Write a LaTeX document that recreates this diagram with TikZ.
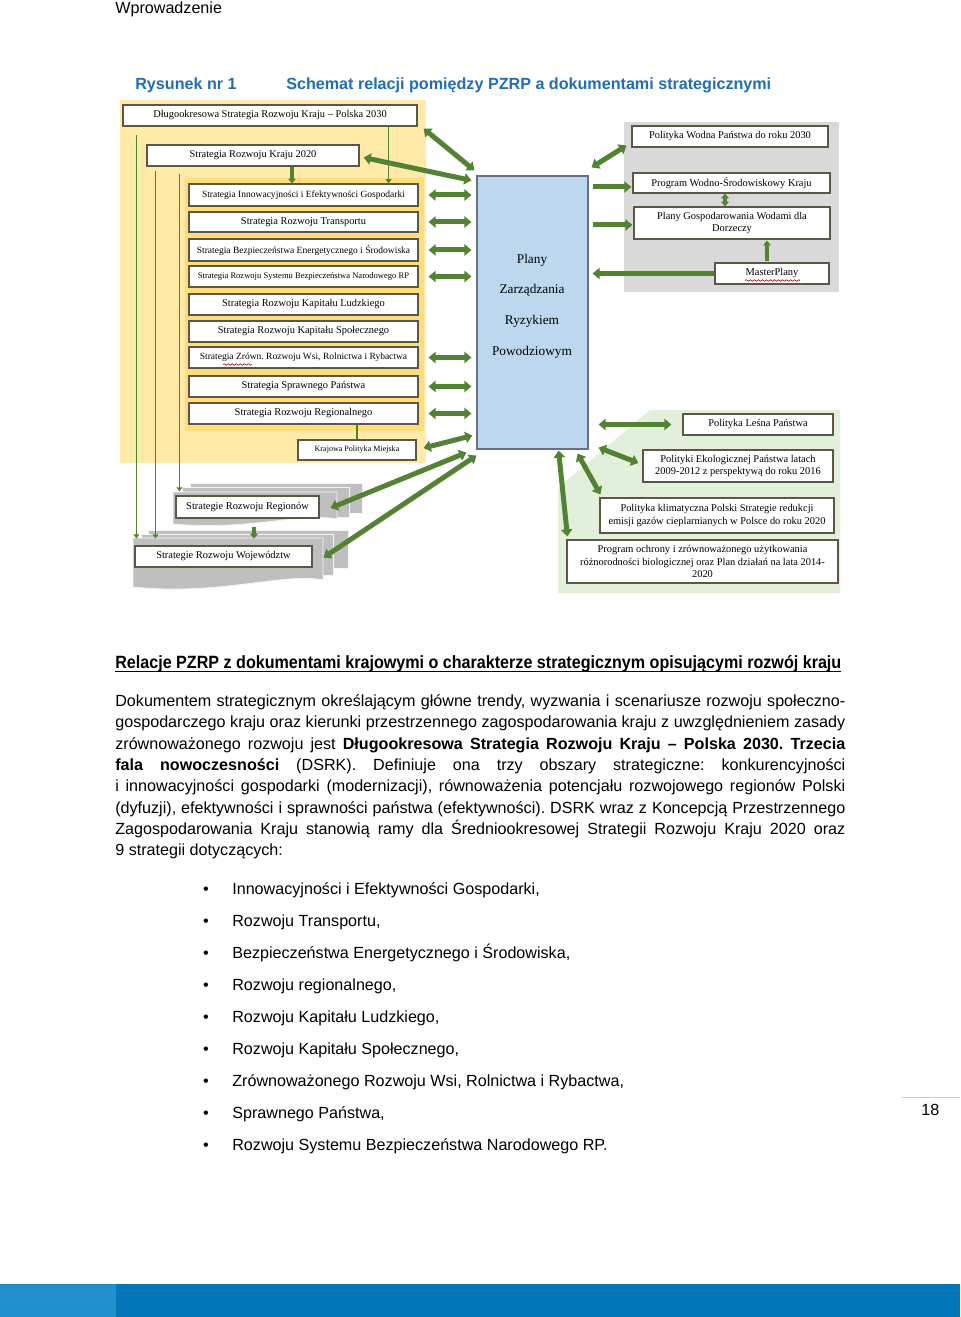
\documentclass[tikz,border=0pt]{standalone}
\usepackage{fontspec}
\setmainfont{Liberation Sans}
\newfontfamily\tnr{Liberation Serif}
\usetikzlibrary{arrows.meta,calc,decorations.pathmorphing}
\frenchspacing
\definecolor{agreen}{HTML}{548235}
\definecolor{bborder}{HTML}{5B5748}
\definecolor{ylight}{HTML}{FFEAA8}
\definecolor{ydark}{HTML}{FFDC7C}
\definecolor{gregion}{HTML}{D9D9D9}
\definecolor{stackgray}{HTML}{BFBFBF}
\definecolor{greenreg}{HTML}{E2EFDA}
\definecolor{planfill}{HTML}{BDD7EE}
\definecolor{planborder}{HTML}{66707E}
\definecolor{titleblue}{HTML}{1F6EB4}
\definecolor{barlight}{HTML}{2191CE}
\definecolor{bardark}{HTML}{0276B7}
\newcommand\DiagBox[7][]{\node[dbox,#1,minimum width={(#5-#3)*0.62pt},minimum height={(#6-#4)*0.62pt}] (#2) at ({(#3+#5)/2},{(#4+#6)/2}) {#7};}
\begin{document}
\begin{tikzpicture}[x=0.62pt,y=-0.62pt,
  txt/.style={anchor=base west,inner sep=0pt,font=\fontsize{10pt}{12pt}\selectfont\frenchspacing},
  dbox/.style={draw=bborder,fill=white,line width=0.7pt,inner sep=0pt,align=center,font=\tnr\fontsize{6.45pt}{7.6pt}\selectfont},
  fsm/.style={font=\tnr\fontsize{5.9pt}{7pt}\selectfont},
  fxs/.style={font=\tnr\fontsize{5.3pt}{6.5pt}\selectfont},
  fxxs/.style={font=\tnr\fontsize{5pt}{6pt}\selectfont},
  tarr/.style={draw=agreen,line width=3.1pt,{Triangle[width=7pt,length=4.4pt]}-{Triangle[width=7pt,length=4.4pt]}},
  rarr/.style={draw=agreen,line width=3.1pt,-{Triangle[width=7pt,length=4.4pt]}},
  medarr/.style={draw=agreen,line width=1.9pt,-{Triangle[width=4.8pt,length=3pt]}},
  meddarr/.style={draw=agreen,line width=1.9pt,{Triangle[width=4.8pt,length=3pt]}-{Triangle[width=4.8pt,length=3pt]}},
  tharr/.style={draw=agreen,line width=1.1pt,-{Triangle[width=3.6pt,length=2.6pt]}},
  thline/.style={draw=agreen,line width=1.1pt},
  squig/.style={draw=red!80!black,line width=0.4pt,decorate,decoration={snake,amplitude=0.5pt,segment length=2.5pt}},
  layer/.style={fill=stackgray,draw=white!85!stackgray,line width=0.5pt}
]
\useasboundingbox (0,0) rectangle (960,1317);
\fill[white] (0,0) rectangle (960,1317);

% header
\node[txt] (hdr) at (115,13.5) {Wprowadzenie};

% title
\node[txt,font=\fontsize{10pt}{12pt}\selectfont\bfseries,text=titleblue] (tit1) at (135,89.5) {Rysunek nr 1};
\node[txt,font=\fontsize{10pt}{12pt}\selectfont\bfseries,text=titleblue] (tit2) at (286,89.5) {Schemat relacji pomiędzy PZRP a dokumentami strategicznymi};

% regions
\fill[ylight] (120,100) rectangle (426,463);
\fill[ydark] (185,178) rectangle (424,431);
\fill[gregion] (624,122) rectangle (839,292);
\fill[greenreg] (558,488) -- (650,410) -- (840,410) -- (840,593) -- (558,593) -- cycle;

% gray stacks
\path[layer] (190,483) rectangle (362,513);
\path[layer] (182,487) rectangle (349,517);
\path[layer] (173,492) -- (337,492) -- (337,519) .. controls (300,512) and (250,531) .. (173,524) -- cycle;
\path[layer] (148,530) rectangle (348,568);
\path[layer] (141,534) rectangle (333,575);
\path[layer] (133,538) -- (323,538) -- (323,580) .. controls (285,572) and (220,596) .. (133,587) -- cycle;
\coordinate (srrtop) at (0,491.5);
\coordinate (srwtop) at (0,538.5);

% boxes
\DiagBox{dsrk}{123}{105}{417}{126}{Długookresowa Strategia Rozwoju Kraju – Polska 2030}
\DiagBox{srk}{147}{145}{359}{166}{Strategia Rozwoju Kraju 2020}
\DiagBox[fsm]{inn}{189}{184}{418}{206}{Strategia Innowacyjności i Efektywności Gospodarki}
\DiagBox{tra}{189}{212}{418}{232}{Strategia Rozwoju Transportu}
\DiagBox[fsm]{bez}{189}{239}{418}{261}{Strategia Bezpieczeństwa Energetycznego i Środowiska}
\DiagBox[fxs]{sys}{189}{266}{418}{287}{Strategia Rozwoju Systemu Bezpieczeństwa Narodowego RP}
\DiagBox{kl}{189}{294}{418}{315}{Strategia Rozwoju Kapitału Ludzkiego}
\DiagBox{ks}{189}{321}{418}{342}{Strategia Rozwoju Kapitału Społecznego}
\DiagBox[fsm]{zro}{189}{347}{418}{368}{Strategia Zrówn. Rozwoju Wsi, Rolnictwa i Rybactwa}
\DiagBox{spr}{189}{376}{418}{397}{Strategia Sprawnego Państwa}
\DiagBox{reg}{189}{403}{418}{424}{Strategia Rozwoju Regionalnego}
\DiagBox[fxxs]{kpm}{298}{440}{416}{460}{Krajowa Polityka Miejska}
\DiagBox{srr}{176}{496}{319}{518}{Strategie Rozwoju Regionów}
\DiagBox{srw}{135}{546}{312}{567}{Strategie Rozwoju Województw}
\DiagBox{pwp}{632}{126}{828}{147}{Polityka Wodna Państwa do roku 2030}
\DiagBox{pws}{633}{173}{830}{193}{Program Wodno-Środowiskowy Kraju}
\DiagBox{pgw}{634}{207}{830}{239}{Plany Gospodarowania Wodami dla\\Dorzeczy}
\DiagBox{mp}{715}{263}{829}{284}{MasterPlany}
\DiagBox{pls}{683}{414}{833}{435}{Polityka Leśna Państwa}
\DiagBox{pep}{643}{450}{833}{482}{Polityki Ekologicznej Państwa latach\\2009-2012 z perspektywą do roku 2016}
\DiagBox{pkp}{600}{498}{834}{533}{Polityka klimatyczna Polski Strategie redukcji\\emisji gazów cieplarnianych w Polsce do roku 2020}
\DiagBox{poc}{567}{540}{838}{583}{Program ochrony i zrównoważonego użytkowania\\różnorodności biologicznej oraz Plan działań na lata 2014-\\2020}
\DiagBox[fill=planfill,draw=planborder]{plan}{477}{176}{588}{449}{}
\node[inner sep=0pt,align=center,font=\tnr\fontsize{8.25pt}{19pt}\selectfont] (plantxt) at (532,306) {Plany\\Zarządzania\\Ryzykiem\\Powodziowym};

% spell-check squiggles
\draw[squig] (223,364.5) -- (252,364.5);
\draw[squig] (745,280.5) -- (800,280.5);

% thin internal connectors
\draw[tharr] ($(dsrk.south east)+(-29,0)$) -- ($(dsrk.south east |- inn.north)+(-29,0)$);
\draw[medarr] ($(srk.south)+(39,0)$) -- ($(srk.south |- inn.north)+(39,0)$);
\draw[thline] (reg.south -| kpm.north) -- (kpm.north);
\draw[tharr] ($(dsrk.south west)+(14,8)$) -- ($(dsrk.south west |- srwtop)+(14,0)$);
\draw[tharr] ($(srk.south west)+(9,4)$) -- ($(srk.south west |- srwtop)+(9,0)$);
\draw[tharr] ($(srk.south west)+(33,7)$) -- ($(srk.south west |- srrtop)+(33,0)$);
\draw[medarr] ($(srr.south)+(6.5,8)$) -- ($(srr.south |- srwtop)+(6.5,0)$);
\draw[meddarr] ($(pws.south)+(-6.5,0)$) -- ($(pws.south |- pgw.north)+(-6.5,0)$);
\draw[medarr] ($(mp.north)+(-5,-1)$) -- ($(mp.north |- pgw.south)+(-5,1)$);

% thick arrows left
\draw[tarr] ($(dsrk.south east)+(6,2)$) -- ($(plan.north west)+(-2,-5)$);
\draw[tarr] ($(srk.east)+(4,2)$) -- ($(plan.north west)+(-5,5)$);
\foreach \b in {inn,tra,bez,sys,zro,spr,reg}{
  \draw[tarr] ($(\b.east)+(10,0)$) -- ($(\b.east -| plan.west)+(-5,0)$);
}
\draw[tarr] ($(kpm.east)+(7,-2)$) -- ($(plan.south west)+(-4,-14)$);
\draw[tarr] ($(srr.east)+(11,1)$) -- ($(plan.south west)+(-10,3)$);
\draw[tarr] ($(srw.east)+(11,1)$) -- ($(plan.south west)+(0,6)$);

% thick arrows right
\draw[tarr] ($(plan.north east)+(3,-8)$) -- ($(pwp.south west)+(-5,-2)$);
\draw[rarr] ($(pws.west -| plan.east)+(4,4)$) -- ($(pws.west)+(-1,4)$);
\draw[rarr] ($(pgw.west -| plan.east)+(4,2)$) -- ($(pgw.west)+(-1,2)$);
\draw[rarr] (mp.west) -- ($(mp.west -| plan.east)+(4,0)$);
\draw[tarr] ($(pls.west -| plan.east)+(10,0)$) -- ($(pls.west)+(-11,0)$);
\draw[tarr] ($(plan.south east)+(10,-2)$) -- ($(pep.west)+(-4,-3)$);
\draw[tarr] ($(plan.south east)+(-11,4)$) -- ($(pkp.north west)+(1,-3)$);
\draw[tarr] ($(plan.south east)+(-30,1)$) -- ($(poc.north west)+(1,-3)$);

% section heading
\node[anchor=base west,inner sep=0pt] (head) at (115,668.5) {\resizebox{450.1pt}{\height}{\fontsize{11pt}{13pt}\selectfont\bfseries Relacje PZRP z dokumentami krajowymi o charakterze strategicznym opisującymi rozwój kraju}};
\draw[black,line width=0.7pt] (115,671.3) -- (841,671.3);

% body paragraph
\node[txt] (l1) at (115,706.5) {\makebox[452.6pt][s]{Dokumentem strategicznym określającym główne trendy, wyzwania i scenariusze rozwoju społeczno-}};
\node[txt] (l2) at (115,727.8) {\makebox[452.6pt][s]{gospodarczego kraju oraz kierunki przestrzennego zagospodarowania kraju z uwzględnieniem zasady}};
\node[txt] (l3) at (115,749.1) {\makebox[452.6pt][s]{zrównoważonego rozwoju jest \textbf{Długookresowa Strategia Rozwoju Kraju – Polska 2030. Trzecia}}};
\node[txt] (l4) at (115,770.4) {\makebox[452.6pt][s]{\textbf{fala nowoczesności} (DSRK). Definiuje ona trzy obszary strategiczne: konkurencyjności}};
\node[txt] (l5) at (115,791.7) {\makebox[452.6pt][s]{i innowacyjności gospodarki (modernizacji), równoważenia potencjału rozwojowego regionów Polski}};
\node[txt] (l6) at (115,813.0) {\makebox[452.6pt][s]{(dyfuzji), efektywności i sprawności państwa (efektywności). DSRK wraz z Koncepcją Przestrzennego}};
\node[txt] (l7) at (115,834.3) {\makebox[452.6pt][s]{Zagospodarowania Kraju stanowią ramy dla Średniookresowej Strategii Rozwoju Kraju 2020 oraz}};
\node[txt] (l8) at (115,855.6) {9 strategii dotyczących:};

% bullets
\foreach \yy/\tt [count=\i] in {894.5/{Innowacyjności i Efektywności Gospodarki,},926.5/{Rozwoju Transportu,},958.5/{Bezpieczeństwa Energetycznego i Środowiska,},990.5/{Rozwoju regionalnego,},1022.5/{Rozwoju Kapitału Ludzkiego,},1054.5/{Rozwoju Kapitału Społecznego,},1086.5/{Zrównoważonego Rozwoju Wsi, Rolnictwa i Rybactwa,},1118.5/{Sprawnego Państwa,},1150.5/{Rozwoju Systemu Bezpieczeństwa Narodowego RP.}}{
  \node[anchor=base,inner sep=0pt,font=\fontsize{10pt}{12pt}\selectfont] (bu\i) at (206,\yy) {\textbullet};
  \node[txt] (bt\i) at (232,\yy) {\tt};
}

% page number
\draw[gray!40,line width=0.6pt] (902,1097.7) -- (960,1097.7);
\node[txt] (pgno) at (921,1115) {18};

% bottom bar
\fill[bardark] (0,1283.5) rectangle (960,1317);
\fill[barlight] (0,1283.5) rectangle (116,1317);
\end{tikzpicture}
\end{document}
